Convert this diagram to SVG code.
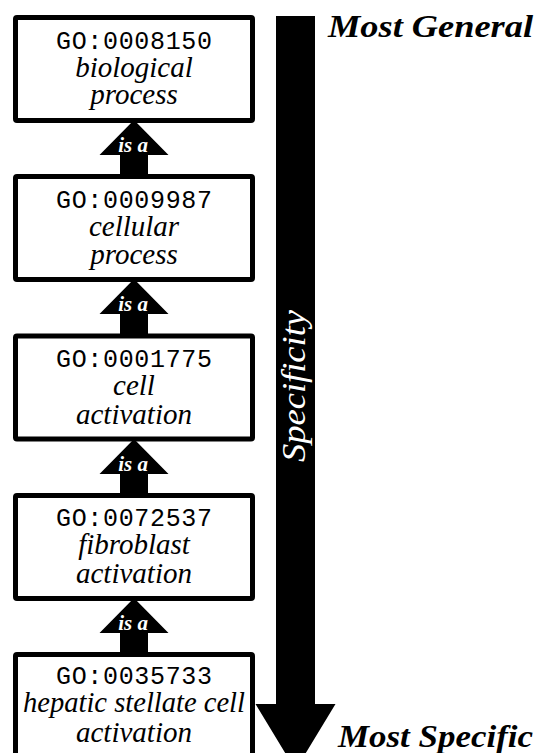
<svg xmlns="http://www.w3.org/2000/svg" width="537" height="753" viewBox="0 0 537 753">
  <style>
    .box { fill: #ffffff; stroke: #000000; stroke-width: 5; }
    .id { font-family: "Liberation Mono", "DejaVu Sans Mono", monospace; font-size: 25px; fill: #000000; text-anchor: middle; }
    .name { font-family: "Liberation Serif", "DejaVu Serif", serif; font-style: italic; font-size: 29px; fill: #000000; text-anchor: middle; }
    .isa { font-family: "Liberation Serif", "DejaVu Serif", serif; font-style: italic; font-weight: bold; font-size: 21px; fill: #ffffff; text-anchor: middle; }
    .edge { fill: #000000; }
    .side { font-family: "Liberation Serif", "DejaVu Serif", serif; font-style: italic; font-weight: bold; font-size: 32px; fill: #000000; }
    .axis { font-family: "Liberation Serif", "DejaVu Serif", serif; font-style: italic; font-size: 34px; fill: #ffffff; text-anchor: middle; }
  </style>
  <defs>
    <!-- block arrow used for every "is a" link; tip at origin, points up -->
    <path id="isaArrow" d="M0,0 L34.5,35 L14,35 L14,56 L-14,56 L-14,35 L-34.5,35 Z"/>
  </defs>

  <rect width="537" height="753" fill="#ffffff"/>

  <!-- specificity scale -->
  <g id="specificity-scale">
    <path d="M276,16 L315,16 L315,704 L335.5,704 L295.5,770 L255.5,704 L276,704 Z" fill="#000000"/>
    <text class="axis" transform="translate(305,386) rotate(-90)" textLength="152" lengthAdjust="spacingAndGlyphs">Specificity</text>
    <text class="side" x="328" y="37" textLength="205" lengthAdjust="spacingAndGlyphs">Most General</text>
    <text class="side" x="338" y="747" textLength="195" lengthAdjust="spacingAndGlyphs">Most Specific</text>
  </g>

  <!-- is_a connectors -->
  <g id="connectors">
    <g transform="translate(134,120)"><use href="#isaArrow" class="edge"/><text class="isa" x="-1" y="32">is a</text></g>
    <g transform="translate(134,279)"><use href="#isaArrow" class="edge"/><text class="isa" x="-1" y="32">is a</text></g>
    <g transform="translate(134,439)"><use href="#isaArrow" class="edge"/><text class="isa" x="-1" y="32">is a</text></g>
    <g transform="translate(134,598)"><use href="#isaArrow" class="edge"/><text class="isa" x="-1" y="32">is a</text></g>
  </g>

  <!-- GO terms -->
  <g id="GO_0008150" transform="translate(0,15)">
    <rect class="box" x="15.5" y="2.5" width="237" height="103" rx="1.5"/>
    <text class="id" x="134" y="34" textLength="156">GO:0008150</text>
    <text class="name" x="134" y="62">biological</text>
    <text class="name" x="134" y="89">process</text>
  </g>

  <g id="GO_0009987" transform="translate(0,174)">
    <rect class="box" x="15.5" y="2.5" width="237" height="103" rx="1.5"/>
    <text class="id" x="134" y="34" textLength="156">GO:0009987</text>
    <text class="name" x="134" y="62">cellular</text>
    <text class="name" x="134" y="90">process</text>
  </g>

  <g id="GO_0001775" transform="translate(0,333.5)">
    <rect class="box" x="15.5" y="2.5" width="237" height="103" rx="1.5"/>
    <text class="id" x="134" y="33" textLength="156">GO:0001775</text>
    <text class="name" x="134" y="61">cell</text>
    <text class="name" x="134" y="90">activation</text>
  </g>

  <g id="GO_0072537" transform="translate(0,493)">
    <rect class="box" x="15.5" y="2.5" width="237" height="103" rx="1.5"/>
    <text class="id" x="134" y="33" textLength="156">GO:0072537</text>
    <text class="name" x="134" y="61">fibroblast</text>
    <text class="name" x="134" y="90">activation</text>
  </g>

  <g id="GO_0035733" transform="translate(0,652)">
    <rect class="box" x="15.5" y="2.5" width="237" height="120" rx="1.5"/>
    <text class="id" x="134" y="32" textLength="156">GO:0035733</text>
    <text class="name" x="134" y="60" textLength="222" lengthAdjust="spacingAndGlyphs">hepatic stellate cell</text>
    <text class="name" x="134" y="90">activation</text>
  </g>
</svg>
